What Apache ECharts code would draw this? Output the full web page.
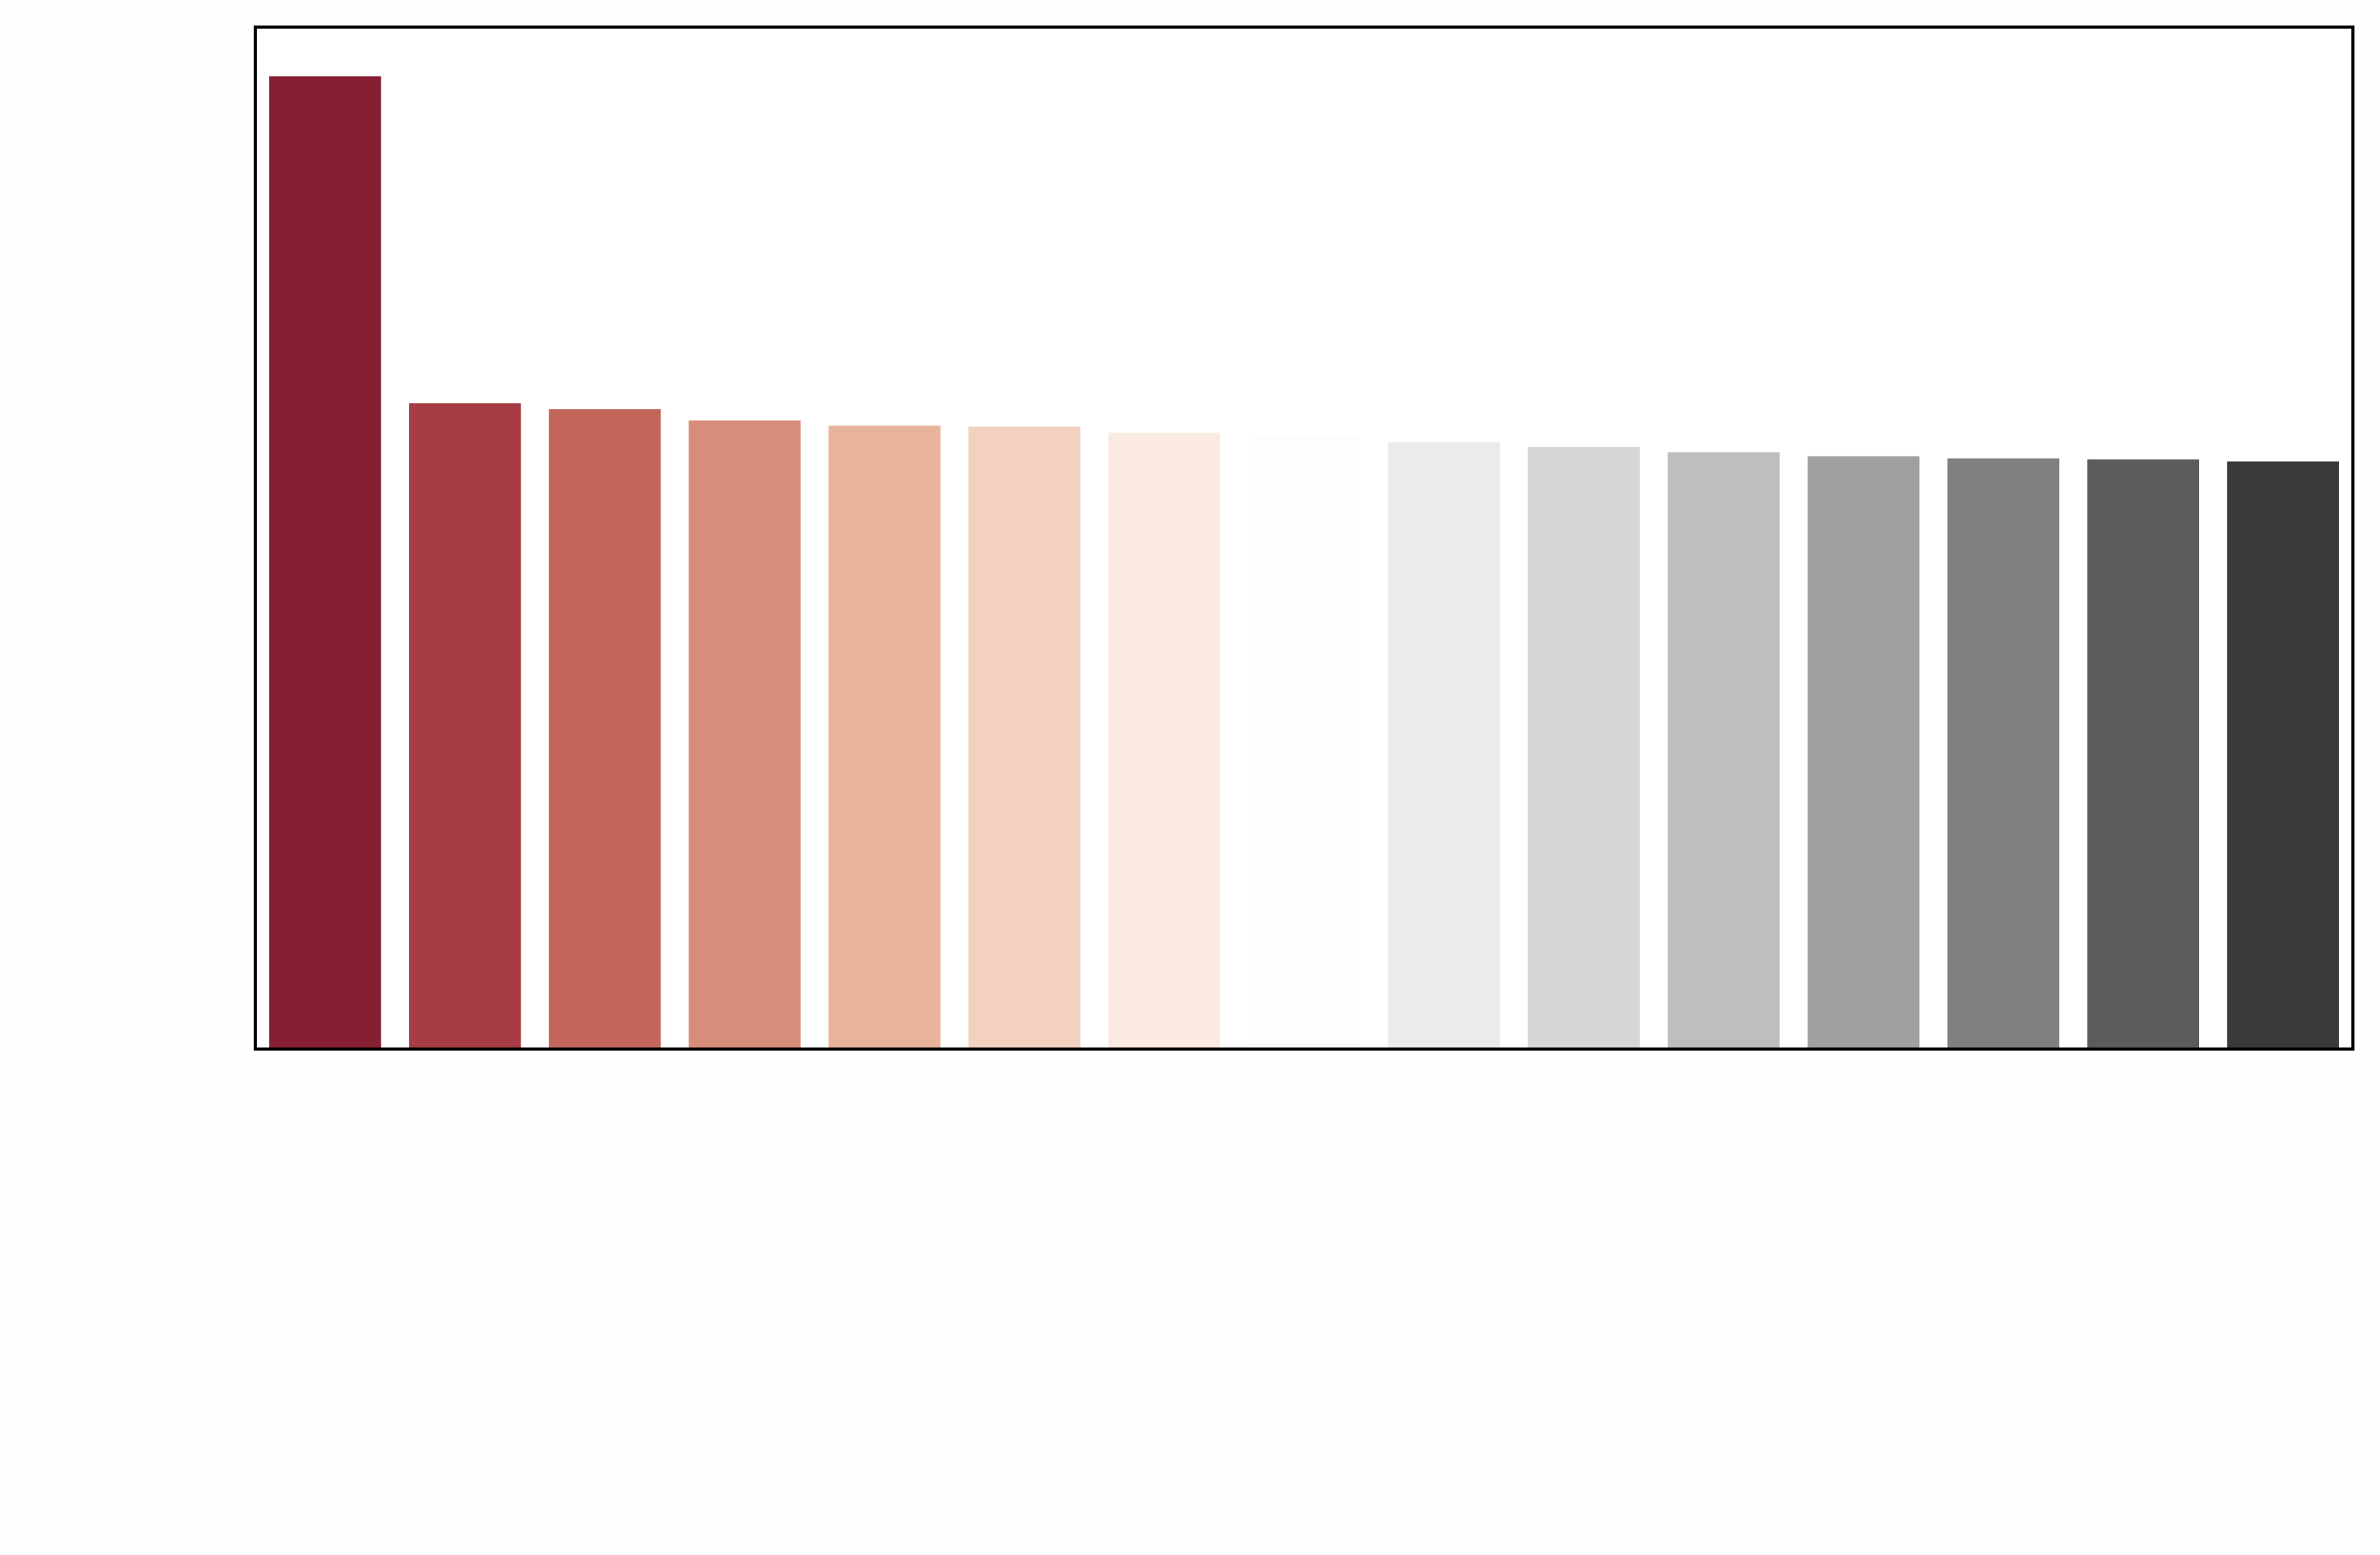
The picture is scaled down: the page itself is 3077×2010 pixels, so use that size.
<!DOCTYPE html>
<html>
<head>
<meta charset="utf-8">
<script src="https://cdn.jsdelivr.net/npm/echarts@6/dist/echarts.min.js"></script>
<style>
  html, body { margin: 0; padding: 0; background: #fefefe; }
  #chart { width: 3077px; height: 2010px; }
</style>
</head>
<body>
<div id="chart"></div>
<script>
// Category slots (no visible labels in the reference)
const categories = ['C1','C2','C3','C4','C5','C6','C7','C8','C9','C10','C11','C12','C13','C14','C15'];
// Bar heights (axis 0..100)
const values = [95.2, 63.2, 62.6, 61.5, 61.0, 60.9, 60.3, 60.0, 59.4, 58.9, 58.4, 58.0, 57.8, 57.7, 57.5];
// Diverging red-grey palette, one colour per bar
const barColors = ['#871f33','#a83c44','#c2665c','#d88d7a','#e8b39b','#f2d1bf','#faeae2','#fdfdfd',
                   '#ebebeb','#d6d6d6','#bebebe','#a0a0a0','#808080','#5c5c5c','#3a3a3a'];
const yMin = 0, yMax = 100;

const chart = echarts.init(document.getElementById('chart'), null, { renderer: 'canvas' });
chart.setOption({
  backgroundColor: '#fefefe',
  animation: false,
  grid: {
    left: 330, right: 35, top: 35, bottom: 654,
    show: true, backgroundColor: '#ffffff',
    borderColor: '#000000', borderWidth: 4,
    outerBoundsMode: 'none', containLabel: false
  },
  xAxis: {
    type: 'category', data: categories,
    axisLabel: { show: false }, axisTick: { show: false },
    axisLine: { show: true, lineStyle: { color: '#000000', width: 4 } },
    splitLine: { show: false }, z: 10
  },
  yAxis: {
    type: 'value', min: yMin, max: yMax,
    axisLabel: { show: false }, axisTick: { show: false },
    axisLine: { show: true, lineStyle: { color: '#000000', width: 4 } },
    splitLine: { show: false }, z: 10
  },
  series: [{
    type: 'bar',
    barCategoryGap: '20%',
    data: values.map((v, i) => ({ value: v, itemStyle: { color: barColors[i] } }))
  }]
});
</script>
</body>
</html>
